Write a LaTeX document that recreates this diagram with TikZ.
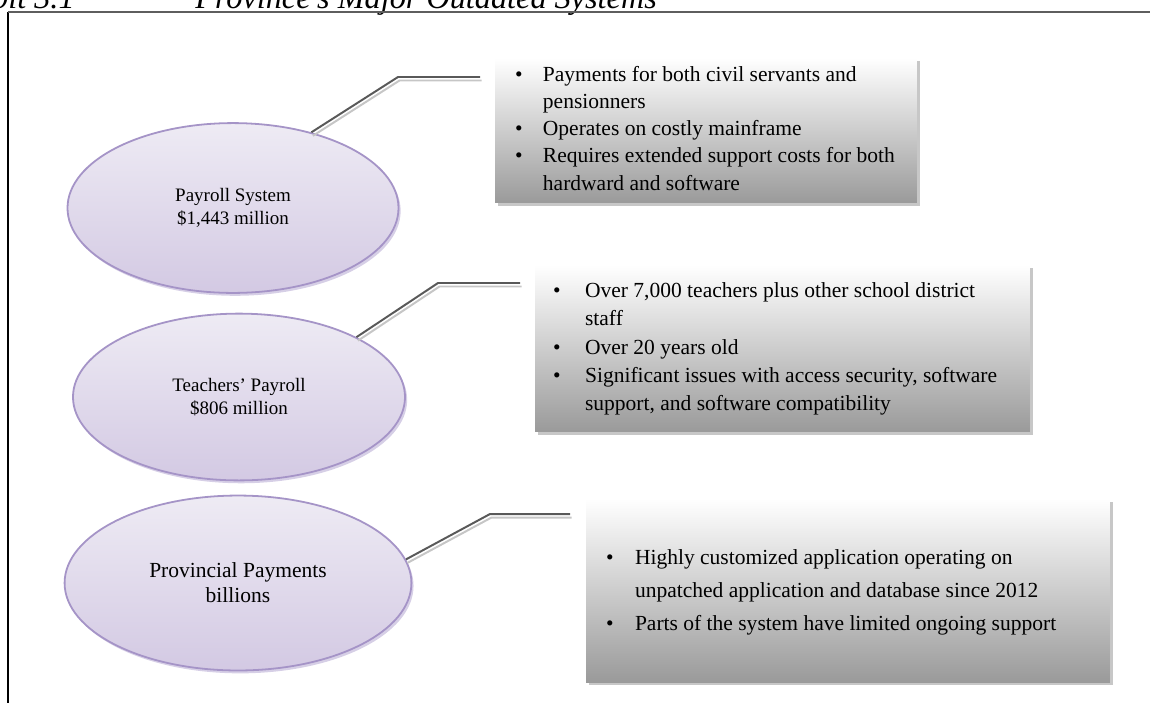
\documentclass[tikz,border=0pt]{standalone}
\usepackage{fontspec}
\setmainfont{Liberation Serif}
\usetikzlibrary{shapes.geometric, shadows, positioning}

\definecolor{ellTop}{HTML}{EEEBF4}
\definecolor{ellBot}{HTML}{D3C9E3}
\definecolor{ellLine}{HTML}{A594C7}
\definecolor{boxBot}{HTML}{9A9A9A}
\definecolor{lnDark}{HTML}{595959}
\definecolor{lnLight}{HTML}{C6C6C6}
\definecolor{frameTop}{HTML}{5E5E5E}

\begin{document}
\begin{tikzpicture}[
    x=0.0196cm, y=-0.0196cm,
    sysnode/.style={ellipse, draw=ellLine, line width=1pt, inner sep=0pt,
                    top color=ellTop, bottom color=ellBot, align=center,
                    drop shadow={shadow xshift=1.2pt, shadow yshift=-1.6pt,
                                 fill=ellLine, opacity=.45}},
    notebox/.style={rectangle, inner sep=0pt, top color=white,
                    bottom color=boxBot,
                    drop shadow={shadow xshift=1.8pt, shadow yshift=-1.8pt,
                                 fill=black, opacity=.22}},
    notetext/.style={anchor=west, inner sep=0pt, align=left},
    calldark/.style={draw=lnDark, line width=1.1pt},
    calllight/.style={draw=lnLight, line width=1.1pt},
    ttl/.style={inner sep=0pt, font=\fontsize{18}{20}\selectfont\itshape}
  ]
  \useasboundingbox (0,0) rectangle (1150,702);
  \clip (0,0) rectangle (1150,702);

  % heading (cut off at the top) and frame
  \node[ttl, anchor=base east] (ttlA) at (75,8) {Exhibit 3.1};
  \node[ttl, anchor=base west] (ttlB) at (195,8) {Province’s Major Outdated Systems};
  \draw[black, line width=0.9pt] (8,12) -- (8,710);
  \draw[frameTop, line width=1.3pt] (8,12) -- (1160,12);

  % systems
  \node[sysnode, minimum width=6.49cm, minimum height=3.33cm,
        font=\fontsize{10.6}{12.6}\selectfont] (e1) at (233,208)
    {Payroll System\\\$1,443 million};
  \node[sysnode, minimum width=6.51cm, minimum height=3.27cm,
        font=\fontsize{10.6}{13.2}\selectfont] (e2) at (239,397)
    {Teachers’ Payroll\\\$806 million};
  \node[sysnode, minimum width=6.80cm, minimum height=3.43cm,
        font=\fontsize{12}{14}\selectfont] (e3) at (238,583)
    {Provincial Payments\\billions};

  % notes
  \node[notebox, minimum width=8.27cm, minimum height=2.84cm] (b1) at (706,130.5) {};
  \node[notebox, minimum width=9.70cm, minimum height=3.27cm] (b2) at (782.5,348.5) {};
  \node[notebox, minimum width=10.27cm, minimum height=3.59cm] (b3) at (848,590.5) {};

  \node[notetext, font=\fontsize{12}{15.1}\selectfont] (t1) at ([xshift=0.39cm]b1.west)
    {\begin{tabular}{@{}p{15.6pt}@{}l@{}}
       \textbullet & Payments for both civil servants and\\
                   & pensionners\\
       \textbullet & Operates on costly mainframe\\
       \textbullet & Requires extended support costs for both\\
                   & hardward and software
     \end{tabular}};
  \node[notetext, font=\fontsize{12}{15.8}\selectfont] (t2) at ([xshift=0.35cm]b2.west)
    {\begin{tabular}{@{}p{17.9pt}@{}l@{}}
       \textbullet & Over 7,000 teachers plus other school district\\
                   & staff\\
       \textbullet & Over 20 years old\\
       \textbullet & Significant issues with access security, software\\
                   & support, and software compatibility
     \end{tabular}};
  \node[notetext, font=\fontsize{12}{18.4}\selectfont] (t3) at ([xshift=0.39cm]b3.west)
    {\begin{tabular}{@{}p{16.2pt}@{}l@{}}
       \textbullet & Highly customized application operating on\\
                   & unpatched application and database since 2012\\
       \textbullet & Parts of the system have limited ongoing support
     \end{tabular}};

  % callout lines
  \coordinate (k1) at (398,77);  \coordinate (m1) at (480,77);
  \coordinate (k2) at (438,283); \coordinate (m2) at (520,283);
  \coordinate (k3) at (490,514); \coordinate (m3) at (570,514);
  \foreach \e/\a/\n in {e1/44/1, e2/27/2, e3/8/3} {
    \draw[calllight] ([shift={(1.5,3.5)}]\e.\a) -- ([shift={(1.5,3.5)}]k\n)
      -- ([shift={(1.5,3.5)}]m\n);
    \draw[calldark] (\e.\a) -- (k\n) -- (m\n);
  }
\end{tikzpicture}
\end{document}
